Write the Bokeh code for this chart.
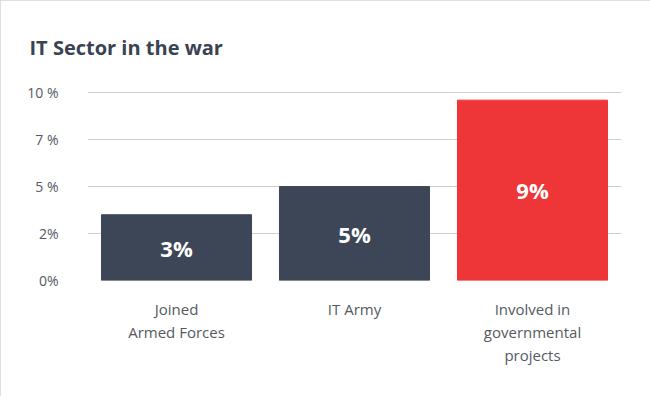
from bokeh.plotting import figure
from bokeh.models import ColumnDataSource, FixedTicker, FactorRange
from bokeh.embed import file_html
from bokeh.resources import INLINE
from bokeh.core.properties import value

# ---- data ----
categories = ["Joined\nArmed Forces", "IT Army", "Involved in\ngovernmental\nprojects"]
shares = [3.5, 5.0, 9.6]
bar_labels = ["3%", "5%", "9%"]
bar_colors = ["#3d4657", "#3d4657", "#ee3538"]
tick_values = [0, 2.5, 5, 7.5, 10]
tick_labels = ["0%", "2%", "5 %", "7 %", "10 %"]

FONT = "Open Sans"
TEXT_GRAY = "#545a62"

src = ColumnDataSource(dict(
    cat=categories,
    val=shares,
    mid=[v / 2 for v in shares],
    lab=bar_labels,
    color=bar_colors,
))

p = figure(
    x_range=FactorRange(*categories, range_padding=0.0),
    y_range=(0, 10.06),
    width=650, height=396,
    output_backend="svg", toolbar_location=None,
    min_border_left=87, min_border_right=29,
    min_border_top=91, min_border_bottom=116,
    title="IT Sector in the war",
)
p.x_range.range_padding = 0
p.styles = {"position": "absolute", "left": "0px", "top": "0px",
            "outline": "1px solid #d4d4d4", "outline-offset": "-1px"}

p.vbar(x="cat", top="val", width=0.843, color="color", source=src)
p.text(x="cat", y="mid", text="lab", source=src, text_color="white",
       text_font=value(FONT), text_font_style="bold", text_font_size="22px",
       text_align="center", text_baseline="middle")

p.title.text_font = FONT
p.title.text_font_size = "20px"
p.title.text_font_style = "bold"
p.title.text_color = "#3a4352"
p.title.align = "left"
p.title.offset = -58
p.title.standoff = 61

p.outline_line_color = None
p.background_fill_color = "white"
p.border_fill_color = "white"

p.xgrid.grid_line_color = None
p.ygrid.grid_line_color = "#cfcfcf"
p.ygrid.grid_line_width = 1

p.yaxis.ticker = FixedTicker(ticks=tick_values)
p.yaxis.major_label_overrides = {float(t): l for t, l in zip(tick_values, tick_labels)}
p.yaxis.axis_line_color = None
p.yaxis.major_tick_line_color = None
p.yaxis.minor_tick_line_color = None
p.yaxis.major_label_text_font = FONT
p.yaxis.major_label_text_font_size = "14px"
p.yaxis.major_label_text_color = TEXT_GRAY
p.yaxis.major_label_standoff = 23

p.xaxis.axis_line_color = None
p.xaxis.major_tick_line_color = None
p.xaxis.minor_tick_line_color = None
p.xaxis.major_label_text_font = FONT
p.xaxis.major_label_text_font_size = "15px"
p.xaxis.major_label_text_color = TEXT_GRAY
p.xaxis.major_label_text_line_height = 1.15
p.xaxis.major_label_standoff = 12

open("out.html", "w").write(file_html(p, INLINE))
